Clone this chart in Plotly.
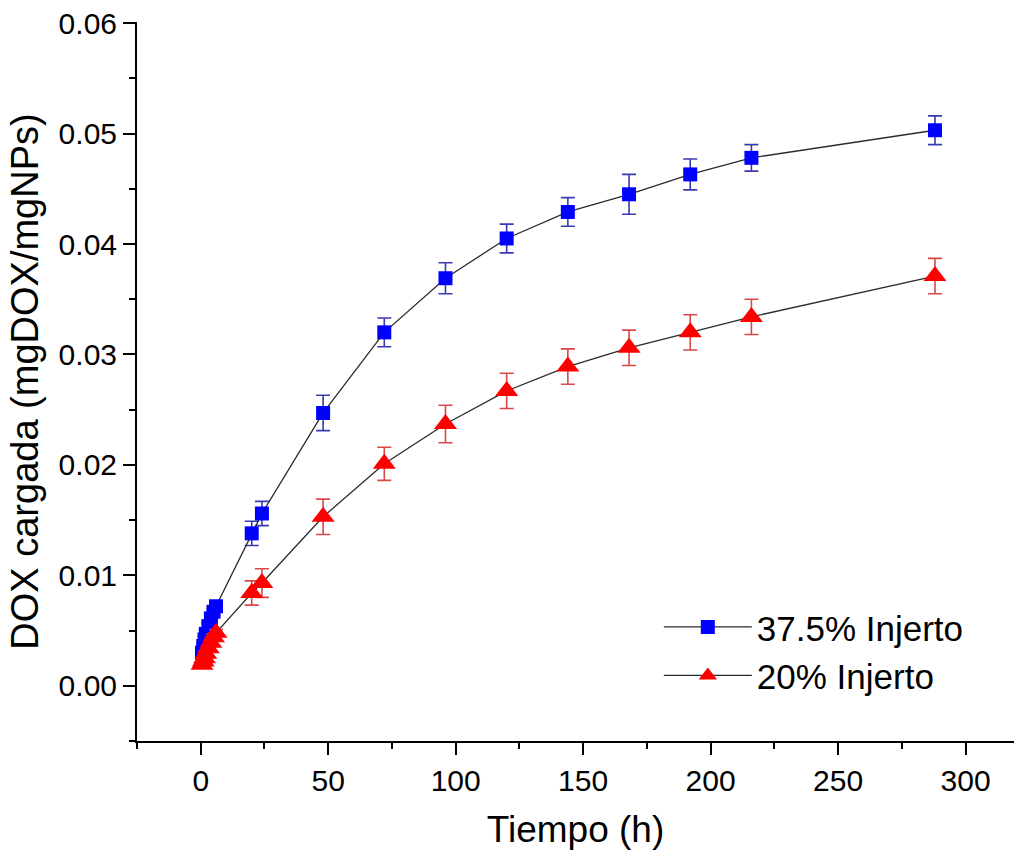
import plotly.graph_objects as go

# Sampling times (h)
tiempo = [0.5, 1, 1.5, 2, 3, 4, 5, 6, 20, 24, 48, 72, 96, 120, 144, 168, 192, 216, 288]

# DOX loaded (mgDOX/mgNPs) and standard deviations
dox_375 = [0.0030, 0.0036, 0.0042, 0.0047, 0.0054, 0.0061, 0.0067, 0.0072,
           0.0138, 0.0156, 0.0247, 0.0320, 0.0369, 0.0405, 0.0429, 0.0445,
           0.0463, 0.0478, 0.0503]
err_375 = [0.0003, 0.0003, 0.0003, 0.0003, 0.0003, 0.0003, 0.0003, 0.0003,
           0.0011, 0.0011, 0.0016, 0.0013, 0.0014, 0.0013, 0.0013, 0.0018,
           0.0014, 0.0012, 0.0013]

dox_20 = [0.0019, 0.0022, 0.0025, 0.0029, 0.0034, 0.0039, 0.0044, 0.0048,
          0.0084, 0.0093, 0.0153, 0.0201, 0.0237, 0.0267, 0.0289, 0.0306,
          0.0320, 0.0334, 0.0371]
err_20 = [0.0003, 0.0003, 0.0003, 0.0003, 0.0003, 0.0003, 0.0003, 0.0003,
          0.0011, 0.0013, 0.0016, 0.0015, 0.0017, 0.0016, 0.0016, 0.0016,
          0.0016, 0.0016, 0.0016]

FONT = "Liberation Sans, Arial, sans-serif"

fig = go.Figure()

fig.add_trace(go.Scatter(
    x=tiempo, y=dox_375, name="37.5% Injerto",
    mode="lines+markers",
    line=dict(color="#2b2b2b", width=1.3),
    marker=dict(symbol="square", size=14, color="#0000ff"),
    error_y=dict(type="data", array=err_375, visible=True,
                 color="#3a3ab0", thickness=1.6, width=7),
))

fig.add_trace(go.Scatter(
    x=tiempo, y=dox_20, name="20% Injerto",
    mode="lines+markers",
    line=dict(color="#2b2b2b", width=1.3),
    marker=dict(symbol="triangle-up", size=20, color="#ff0000"),
    error_y=dict(type="data", array=err_20, visible=True,
                 color="#d84848", thickness=1.6, width=7),
))

axis_common = dict(
    showgrid=False, zeroline=False, showline=True, linecolor="black",
    linewidth=2, ticks="outside", ticklen=12, tickwidth=2, tickcolor="black",
    tickfont=dict(family=FONT, size=30, color="black"),
)

fig.update_xaxes(
    range=[-25, 319], tick0=0, dtick=50,
    minor=dict(tick0=0, dtick=25, ticks="outside", ticklen=6, tickwidth=2,
               tickcolor="black"),
    title=dict(text="Tiempo (h)", font=dict(family=FONT, size=37, color="black"),
               standoff=20),
    **axis_common,
)

fig.update_yaxes(
    range=[-0.005, 0.0601], tick0=0, dtick=0.01, tickformat=".2f",
    minor=dict(tick0=0, dtick=0.005, ticks="outside", ticklen=6, tickwidth=2,
               tickcolor="black"),
    title=dict(text="DOX cargada (mgDOX/mgNPs)",
               font=dict(family=FONT, size=38, color="black"), standoff=8),
    **axis_common,
)

fig.update_layout(
    width=1019, height=855,
    margin=dict(l=137, r=5, t=22, b=114),
    paper_bgcolor="white", plot_bgcolor="white",
    font=dict(family=FONT, color="black"),
    legend=dict(
        x=0.595, y=0.125, xanchor="left", yanchor="middle",
        font=dict(family=FONT, size=35, color="black"),
        itemwidth=88, bgcolor="rgba(0,0,0,0)", tracegroupgap=0,
    ),
)

fig.write_html("out.html")
